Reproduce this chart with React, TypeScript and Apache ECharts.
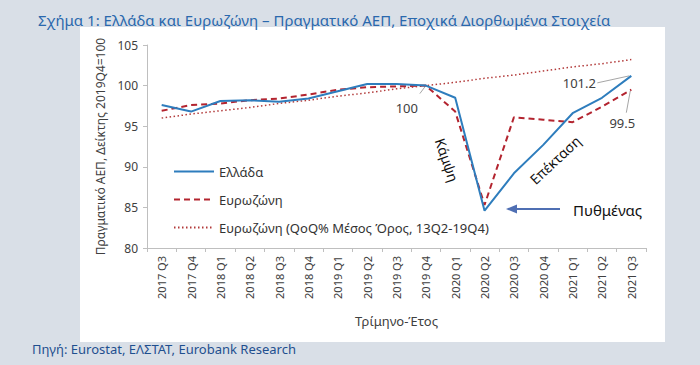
import React, { useEffect, useRef } from 'react';
import * as echarts from 'echarts';

const categories = [
  '2017 Q3', '2017 Q4', '2018 Q1', '2018 Q2', '2018 Q3', '2018 Q4',
  '2019 Q1', '2019 Q2', '2019 Q3', '2019 Q4', '2020 Q1', '2020 Q2',
  '2020 Q3', '2020 Q4', '2021 Q1', '2021 Q2', '2021 Q3',
];
const greece = [97.6, 96.8, 98.1, 98.2, 98.0, 98.4, 99.3, 100.2, 100.2, 100.0, 98.5, 84.6, 89.2, 92.7, 96.6, 98.5, 101.2];
const eurozone = [96.9, 97.6, 97.8, 98.2, 98.4, 98.9, 99.5, 99.8, 99.9, 100.0, 96.8, 85.3, 96.1, 95.8, 95.5, 97.4, 99.5];
const eurozoneTrend = [96.0, 96.5, 96.9, 97.3, 97.8, 98.2, 98.7, 99.1, 99.6, 100.0, 100.4, 100.9, 101.3, 101.8, 102.3, 102.7, 103.2];
const seriesNames = ['Ελλάδα', 'Ευρωζώνη', 'Ευρωζώνη (QoQ% Μέσος Όρος, 13Q2-19Q4)'];
const yTicks = { min: 80, max: 105, interval: 5 };

const FONT = 'Noto Sans';
const BLUE = '#2e7dbd';
const RED = '#b3242f';
const DOT = '#b23a3a';
const GREY_TXT = '#404040';

export default function App() {
  const ref = useRef<HTMLDivElement>(null);
  useEffect(() => {
    document.body.style.margin = '0';
    const chart = echarts.init(ref.current!, null, { renderer: 'svg' });
    chart.setOption({
      animation: false,
      title: {
        text: 'Σχήμα 1: Ελλάδα και Ευρωζώνη – Πραγματικό ΑΕΠ, Εποχικά Διορθωμένα Στοιχεία',
        left: 33,
        top: 7,
        textStyle: { fontFamily: FONT, fontSize: 15, fontWeight: 'normal', color: '#2a68ad' },
      },
      grid: { left: 147, right: 54, top: 45, bottom: 117 },
      legend: {
        orient: 'vertical',
        left: 168,
        top: 160,
        itemWidth: 40,
        itemHeight: 14,
        itemGap: 15,
        itemStyle: { opacity: 0 },
        textStyle: { fontFamily: FONT, fontSize: 13, color: '#333' },
        data: seriesNames,
      },
      xAxis: {
        type: 'category',
        data: categories,
        boundaryGap: true,
        name: 'Τρίμηνο-Έτος',
        nameLocation: 'middle',
        nameGap: 66,
        nameTextStyle: { fontFamily: FONT, fontSize: 13, color: GREY_TXT },
        axisLine: { lineStyle: { color: '#bfbfbf' } },
        axisTick: { show: true, length: 4, lineStyle: { color: '#bfbfbf' } },
        axisLabel: { rotate: 90, fontFamily: FONT, fontSize: 11, color: GREY_TXT, margin: 8 },
      },
      yAxis: {
        type: 'value',
        min: yTicks.min,
        max: yTicks.max,
        interval: yTicks.interval,
        name: 'Πραγματικό ΑΕΠ, Δείκτης 2019Q4=100',
        nameLocation: 'middle',
        nameGap: 37,
        nameTextStyle: { fontFamily: FONT, fontSize: 12, color: GREY_TXT },
        axisLine: { show: true, lineStyle: { color: '#bfbfbf' } },
        axisTick: { show: true, length: 4, lineStyle: { color: '#bfbfbf' } },
        splitLine: { show: false },
        axisLabel: { fontFamily: FONT, fontSize: 12, color: GREY_TXT, margin: 9 },
      },
      series: [
        {
          name: seriesNames[0], type: 'line', data: greece, symbol: 'none', z: 4,
          lineStyle: { color: BLUE, width: 2 }, itemStyle: { color: BLUE },
        },
        {
          name: seriesNames[1], type: 'line', data: eurozone, symbol: 'none', z: 3,
          lineStyle: { color: RED, width: 2, type: [6, 4] }, itemStyle: { color: RED },
        },
        {
          name: seriesNames[2], type: 'line', data: eurozoneTrend, symbol: 'none', z: 2,
          lineStyle: { color: DOT, width: 1.5, type: [1.5, 2.5] }, itemStyle: { color: DOT },
        },
      ],
    });

    const px = (i: number, v: number) => chart.convertToPixel({ seriesIndex: 0 }, [i, v]) as number[];
    const p100 = px(9, greece[9]);
    const pG = px(16, greece[16]);
    const pE = px(16, eurozone[16]);
    const lbl = { fontFamily: FONT, fontSize: 13, fill: GREY_TXT, align: 'center', verticalAlign: 'middle' };
    const lead = { stroke: '#a6a6a6', lineWidth: 1 };

    chart.setOption({
      graphic: [
        { type: 'text', style: { ...lbl, text: '100', x: p100[0] - 19, y: p100[1] + 22 } },
        { type: 'line', shape: { x1: p100[0] - 6, y1: p100[1] + 8, x2: p100[0], y2: p100[1] }, style: lead },
        { type: 'text', style: { ...lbl, text: '101.2', x: pG[0] - 52, y: pG[1] + 7 } },
        { type: 'line', shape: { x1: pG[0] - 34, y1: pG[1] + 7, x2: pG[0] - 2, y2: pG[1] }, style: lead },
        { type: 'text', style: { ...lbl, text: '99.5', x: pE[0] - 9, y: pE[1] + 33 } },
        { type: 'line', shape: { x1: pE[0] - 5, y1: pE[1] + 23, x2: pE[0] - 1, y2: pE[1] + 1 }, style: lead },
        {
          type: 'text', x: 447, y: 160, rotation: (-71 * Math.PI) / 180,
          style: { text: 'Κάμψη', fontFamily: FONT, fontSize: 14, fill: '#111', align: 'center', verticalAlign: 'middle' },
        },
        {
          type: 'text', x: 555, y: 160, rotation: (43 * Math.PI) / 180,
          style: { text: 'Επέκταση', fontFamily: FONT, fontSize: 14, fill: '#111', align: 'center', verticalAlign: 'middle' },
        },
        { type: 'line', shape: { x1: 560, y1: 209, x2: 514, y2: 209 }, style: { stroke: '#4f6fb3', lineWidth: 2 } },
        { type: 'polygon', shape: { points: [[506, 209], [517, 204.5], [517, 213.5]] }, style: { fill: '#4f6fb3' } },
        {
          type: 'text', x: 573, y: 210,
          style: { text: 'Πυθμένας', fontFamily: FONT, fontSize: 15, fill: '#111', align: 'left', verticalAlign: 'middle' },
        },
        {
          type: 'text', x: 32, y: 349,
          style: { text: 'Πηγή: Eurostat, ΕΛΣΤΑΤ, Eurobank Research', fontFamily: FONT, fontSize: 13, fill: '#1f4f8f', align: 'left', verticalAlign: 'middle' },
        },
      ],
    });

    return () => chart.dispose();
  }, []);

  return (
    <div style={{ position: 'relative', width: 700, height: 365, background: '#d9dfe7', overflow: 'hidden' }}>
      <div style={{ position: 'absolute', left: 80, top: 27, width: 585, height: 315, background: '#ffffff' }} />
      <div ref={ref} style={{ position: 'absolute', left: 0, top: 0, width: 700, height: 365 }} />
    </div>
  );
}
